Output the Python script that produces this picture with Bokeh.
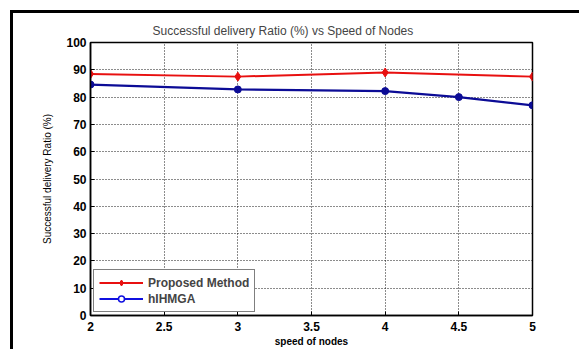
from bokeh.plotting import figure
from bokeh.embed import file_html
from bokeh.resources import INLINE
from bokeh.models import Legend, LegendItem, FixedTicker, Range1d

# Data
speed_proposed = [2, 3, 4, 5]
ratio_proposed = [88.5, 87.5, 89.0, 87.5]
speed_hihmga = [2, 3, 4, 4.5, 5]
ratio_hihmga = [84.6, 82.8, 82.2, 80.0, 77.0]
x_ticks = [2, 2.5, 3, 3.5, 4, 4.5, 5]
y_ticks = [0, 10, 20, 30, 40, 50, 60, 70, 80, 90, 100]

FONT = "Liberation Sans"
RED = "#e81010"
NAVY = "#0c0c96"
BLUE = "#1010e0"

p = figure(width=579, height=349, output_backend="svg", toolbar_location=None,
           x_range=Range1d(2, 5), y_range=Range1d(0, 100),
           min_border_left=90, min_border_right=47, min_border_top=42, min_border_bottom=34)

# outer frame of the original figure (left and top edges visible), drawn as a CSS background
p.border_fill_alpha = 0
p.styles = {
    "background": ("linear-gradient(black, black) 10px 10px / 3px 100% no-repeat, "
                   "linear-gradient(black, black) 10px 10px / 100% 3px no-repeat, white"),
}

p.title.text = "Successful delivery Ratio (%) vs Speed of Nodes"
p.title.align = "left"
p.title.offset = 62
p.title.text_font = FONT
p.title.text_font_size = "12px"
p.title.text_font_style = "normal"

p.outline_line_color = "black"
p.outline_line_width = 1.5
p.background_fill_color = "white"

p.xaxis.ticker = FixedTicker(ticks=x_ticks)
p.yaxis.ticker = FixedTicker(ticks=y_ticks)
p.xaxis.major_label_overrides = {2: "2", 2.5: "2.5", 3: "3", 3.5: "3.5", 4: "4", 4.5: "4.5", 5: "5"}
for ax in (p.xaxis, p.yaxis):
    ax.major_tick_out = 0
    ax.major_tick_in = 4
    ax.minor_tick_out = 0
    ax.minor_tick_in = 0
    ax.axis_line_color = "black"
    ax.axis_line_width = 1.5
    ax.major_label_text_font = FONT
    ax.major_label_text_font_size = "12px"
    ax.major_label_text_font_style = "bold"
    ax.major_label_text_color = "black"
    ax.axis_label_text_font = FONT
    ax.axis_label_text_font_size = "10px"
    ax.axis_label_text_color = "black"

p.xaxis.major_label_standoff = 6
p.xaxis.axis_label_standoff = 2
p.yaxis.major_label_standoff = 4
p.xaxis.axis_label = "speed of nodes"
p.xaxis.axis_label_text_font_style = "bold"
p.yaxis.axis_label = "Successful delivery Ratio (%)"
p.yaxis.axis_label_text_font_style = "normal"
p.yaxis.axis_label_standoff = 10

p.grid.grid_line_color = "black"
p.grid.grid_line_dash = "1 2"
p.grid.grid_line_width = 1
p.grid.grid_line_alpha = 0.9

r1 = p.line(speed_proposed, ratio_proposed, line_color=RED, line_width=2)
m1 = p.scatter(speed_proposed, ratio_proposed, marker="diamond", size=9,
               fill_color=RED, line_color=RED)
r2 = p.line(speed_hihmga, ratio_hihmga, line_color=NAVY, line_width=2.2)
m2 = p.scatter(speed_hihmga, ratio_hihmga, marker="circle", size=7,
               fill_color=NAVY, line_color=NAVY)

# legend glyph proxies (drawn off-range so only the legend shows them)
off_x = [-10]
off_y = [-10]
l1 = p.line(off_x, off_y, line_color=RED, line_width=2)
lm1 = p.scatter(off_x, off_y, marker="diamond", size=8, fill_color=RED, line_color=RED)
l2 = p.line(off_x, off_y, line_color=BLUE, line_width=2)
lm2 = p.scatter(off_x, off_y, marker="circle", size=7, fill_color="white", line_color=BLUE, line_width=1.5)

legend = Legend(items=[LegendItem(label="Proposed Method", renderers=[l1, lm1]),
                       LegendItem(label="hIHMGA", renderers=[l2, lm2])],
                location="bottom_left")
legend.margin = 3
legend.padding = 5
legend.spacing = 1
legend.label_text_font = FONT
legend.label_text_font_size = "12px"
legend.label_text_font_style = "bold"
legend.label_height = 15
legend.glyph_width = 44
legend.glyph_height = 15
legend.label_standoff = 5
legend.border_line_color = "black"
legend.border_line_width = 1.5
legend.background_fill_color = "white"
legend.background_fill_alpha = 1
p.add_layout(legend, "center")

open("out.html", "w").write(file_html(p, INLINE))
